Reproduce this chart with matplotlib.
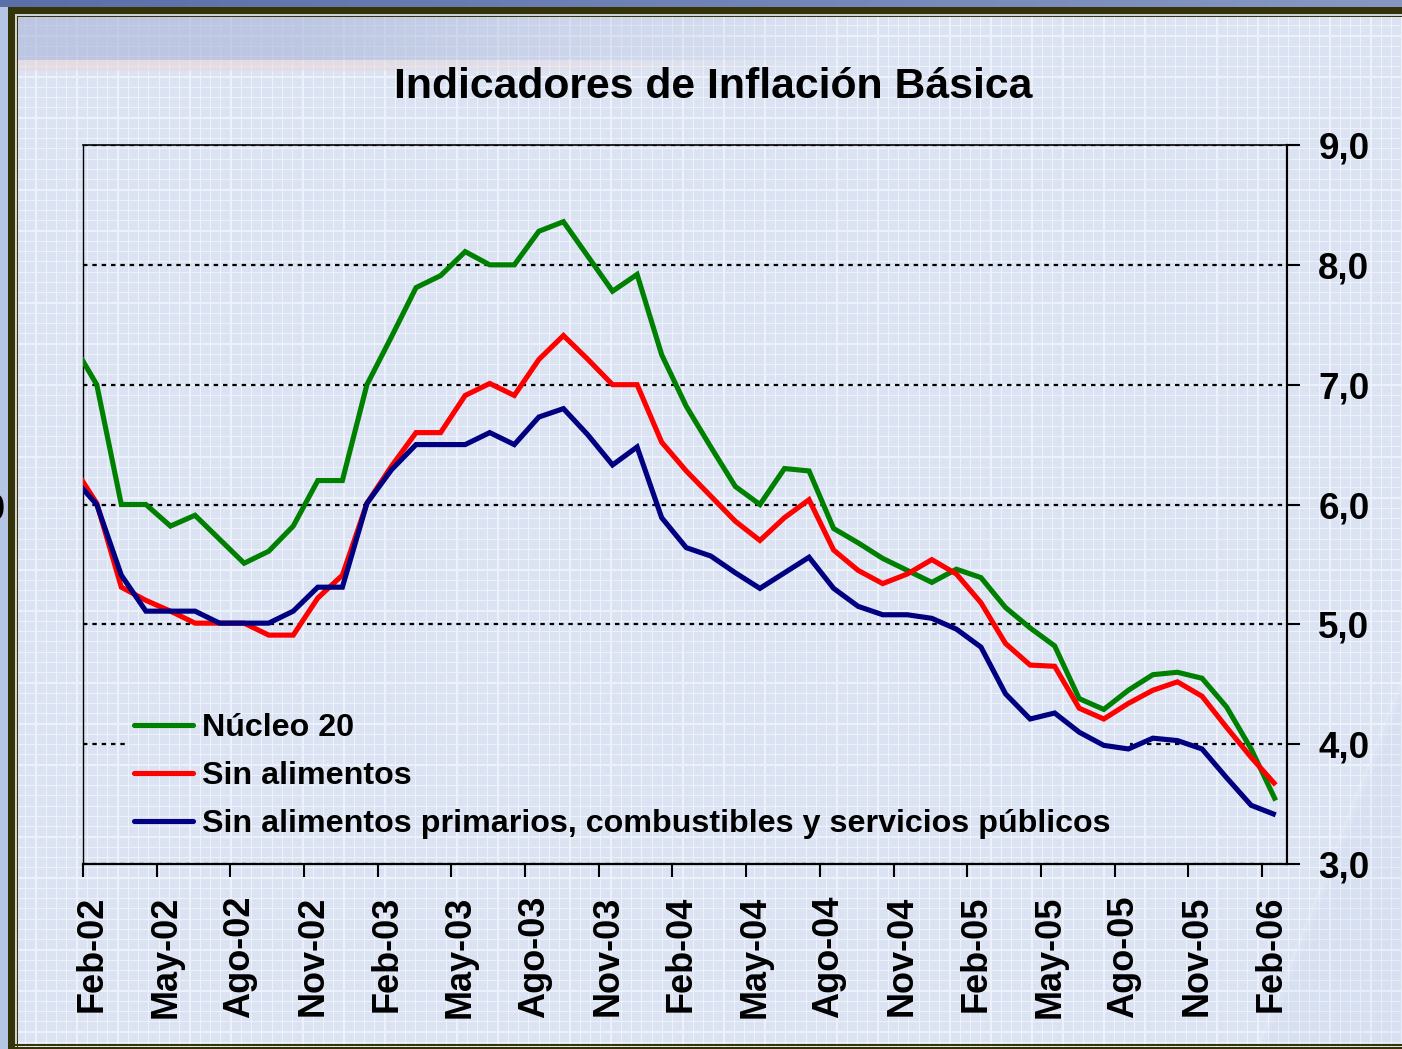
import numpy as np
import matplotlib
matplotlib.use("Agg")
import matplotlib.pyplot as plt
import matplotlib.transforms as mtransforms
from matplotlib.path import Path

# ---------------- data ----------------
# months from Jan-02 (clipped at the left edge) to Feb-06
tick_labels = ["Feb-02", "May-02", "Ago-02", "Nov-02", "Feb-03", "May-03", "Ago-03",
               "Nov-03", "Feb-04", "May-04", "Ago-04", "Nov-04", "Feb-05", "May-05",
               "Ago-05", "Nov-05", "Feb-06"]

nucleo20 = [7.35, 7.00, 6.00, 6.00, 5.82, 5.91, 5.71, 5.51, 5.61, 5.82, 6.20, 6.20,
            7.00, 7.40, 7.81, 7.91, 8.11, 8.00, 8.00, 8.28, 8.36, 8.07, 7.78, 7.92,
            7.25, 6.82, 6.48, 6.15, 6.00, 6.30, 6.28, 5.80, 5.68, 5.55, 5.45, 5.35,
            5.46, 5.39, 5.14, 4.97, 4.82, 4.38, 4.29, 4.45, 4.58, 4.60, 4.55, 4.31,
            3.96, 3.53]

sin_alimentos = [6.33, 6.01, 5.31, 5.20, 5.11, 5.01, 5.01, 5.01, 4.91, 4.91, 5.22, 5.41,
                 6.01, 6.32, 6.60, 6.60, 6.91, 7.01, 6.91, 7.21, 7.41, 7.21, 7.00, 7.00,
                 6.52, 6.28, 6.07, 5.86, 5.70, 5.89, 6.04, 5.62, 5.45, 5.34, 5.42, 5.54,
                 5.42, 5.18, 4.84, 4.66, 4.65, 4.30, 4.21, 4.34, 4.45, 4.52, 4.40, 4.14,
                 3.89, 3.66]

sin_alim_prim = [6.23, 6.00, 5.41, 5.11, 5.11, 5.11, 5.01, 5.01, 5.01, 5.11, 5.31, 5.31,
                 6.01, 6.29, 6.50, 6.50, 6.50, 6.60, 6.50, 6.73, 6.80, 6.58, 6.33, 6.48,
                 5.89, 5.64, 5.57, 5.43, 5.30, 5.43, 5.56, 5.30, 5.15, 5.08, 5.08, 5.05,
                 4.96, 4.81, 4.42, 4.21, 4.26, 4.10, 3.99, 3.96, 4.05, 4.03, 3.96, 3.72,
                 3.49, 3.41]

series_names = ["Núcleo 20", "Sin alimentos",
                "Sin alimentos primarios, combustibles y servicios públicos"]
series_colors = ["#008000", "#FF0000", "#000080"]

y_ticks = [3, 4, 5, 6, 7, 8, 9]
y_tick_labels = ["3,0", "4,0", "5,0", "6,0", "7,0", "8,0", "9,0"]

# ---------------- figure & background texture ----------------
W, H = 1402, 1049
DPI = 100
fig = plt.figure(figsize=(W / DPI, H / DPI), dpi=DPI)

yy, xx = np.mgrid[0:H, 0:W].astype(float)
img = np.empty((H, W, 3))
img[:] = np.array([219, 227, 243]) / 255.0

def blend(mask_w, color):
    c = np.array(color) / 255.0
    img[:] = img * (1 - mask_w[..., None]) + c * mask_w[..., None]

# white graph-paper grid
sp = 10.27
gv = (((xx - 4) % sp) < 1.2).astype(float)
gh = (((yy - 4) % sp) < 1.2).astype(float)
blend(np.clip(gv + gh, 0, 1) * 0.5, (255, 255, 255))
chk = (((xx + yy) % 3) < 1).astype(float) * 0.05
blend(chk, (255, 255, 255))

# darker top band fading to the right
wfade = np.clip((850 - xx) / 550, 0, 1)
band = ((yy >= 17) & (yy < 60)).astype(float) * wfade * 0.6
blend(band, (168, 180, 215))
peach = ((yy >= 60) & (yy < 71)).astype(float) * wfade * 0.55
blend(peach, (232, 214, 214))

# subtle diagonal swoosh lower right
line_x = 1402 - (yy - 683) * (102 / 260.0)
side = xx - line_x
blend(((side > 0) & (yy > 600)).astype(float) * 0.10, (180, 198, 230))
blend(((np.abs(side) < 4) & (yy > 600)).astype(float) * 0.15, (245, 248, 255))

# outer frame
blend(((yy < 7)).astype(float), (90, 110, 168))
top_grad = np.clip(xx / W, 0, 1)
blend(((yy < 7)).astype(float) * top_grad * 0.6, (165, 180, 215))
blend(((xx < 8) & (yy >= 7)).astype(float), (180, 197, 230))
olive = (52, 52, 8)
blend((((xx >= 8) & (xx < 15) & (yy >= 7)) | ((yy >= 7) & (yy < 14) & (xx >= 8))).astype(float), olive)
blend((((xx >= 15) & (xx < 17) & (yy >= 14)) | ((yy >= 14) & (yy < 16) & (xx >= 15))).astype(float), (205, 208, 212))
blend((((xx == 17) & (yy >= 16)) | ((yy == 16) & (xx >= 17))).astype(float), olive)
blend(((yy >= 1044) & (yy < 1046) & (xx >= 15)).astype(float), olive)
blend(((yy >= 1047) & (xx >= 8)).astype(float), olive)

fig.figimage((img * 255).astype(np.uint8), xo=0, yo=0, origin="upper", zorder=-10)

FONT = "Liberation Sans"

# ---------------- axes ----------------
ax_l, ax_r, ax_t, ax_b = 83, 1287, 145, 864
ax = fig.add_axes([ax_l / W, 1 - ax_b / H, (ax_r - ax_l) / W, (ax_b - ax_t) / H])
ax.set_zorder(1)
ax.patch.set_visible(False)

n = len(nucleo20)
x = np.arange(n) - 1 + 0.56   # first value is Jan-02, clipped by the axis

for vals, name, col in zip([nucleo20, sin_alimentos, sin_alim_prim], series_names, series_colors):
    ax.plot(x, vals, color=col, lw=3.7, label=name, zorder=3,
            solid_joinstyle="miter", solid_capstyle="butt")

ax.set_xlim(0, 49.02)
ax.set_ylim(3, 9)

# y axis on the right
ax.yaxis.tick_right()
ax.set_yticks(y_ticks)
ax.set_yticklabels(y_tick_labels, fontsize=26.5, fontweight="bold", family=FONT)
ax.tick_params(axis="y", which="major", direction="out", length=9.5, width=1.5,
               pad=13, right=True, left=False)

ax.set_xticks(np.arange(0, 49, 3))
ax.set_xticklabels(tick_labels, rotation=90, fontsize=26, fontweight="bold", family=FONT,
                   va="top", ha="center")
ax.tick_params(axis="x", which="major", direction="out", length=9, width=1.5, pad=14)
offset = mtransforms.ScaledTranslation(9 / DPI, 0, fig.dpi_scale_trans)
for lab in ax.get_xticklabels():
    lab.set_transform(lab.get_transform() + offset)

ax.grid(axis="y", color="black", linestyle=(0, (2, 2.2)), linewidth=1.6, zorder=1)
ax.grid(axis="x", visible=False)
ax.set_axisbelow(True)

for s, lw in [("left", 1.0), ("top", 1.2), ("bottom", 1.6), ("right", 1.6)]:
    ax.spines[s].set_linewidth(lw)
    ax.spines[s].set_color("black")

# legend (transparent box; gridlines are hidden behind it)
leg = ax.legend(loc="upper left", bbox_to_anchor=(0.0345, 0.223), borderaxespad=0,
                prop={"family": FONT, "weight": "bold", "size": 23.2},
                frameon=False, handlelength=1.83, handletextpad=0.27,
                labelspacing=0.56, borderpad=0.3)
leg.set_zorder(2.5)
for h in leg.get_lines():
    h.set_linewidth(3.7)
    h.set_solid_capstyle("round")

# title
fig.text(713.5 / W, 1 - 98 / H, "Indicadores de Inflación Básica", ha="center",
         va="baseline", fontsize=30.8, fontweight="bold", family=FONT)

# clipped label remnant at the left edge (as in the source image)
fig.text(-15 / W, 1 - 510 / H, "0", ha="left", va="center", fontsize=26,
         fontweight="bold", family=FONT)

# hide gridlines behind the legend box
fig.canvas.draw()
lb = leg.get_window_extent()
abb = ax.get_window_extent()
pad = 0.3 * 23.2 * DPI / 72
lx0, lx1 = lb.x0 + 0, lb.x1 + pad
ly0, ly1 = lb.y0, lb.y1
verts = [(abb.x0 - 5, abb.y0 - 5), (abb.x1 + 5, abb.y0 - 5), (abb.x1 + 5, abb.y1 + 5),
         (abb.x0 - 5, abb.y1 + 5), (abb.x0 - 5, abb.y0 - 5),
         (lx0, ly0), (lx0, ly1), (lx1, ly1), (lx1, ly0), (lx0, ly0)]
codes = [Path.MOVETO, Path.LINETO, Path.LINETO, Path.LINETO, Path.CLOSEPOLY,
         Path.MOVETO, Path.LINETO, Path.LINETO, Path.LINETO, Path.CLOSEPOLY]
clip = Path(verts, codes)
for gl in ax.yaxis.get_gridlines():
    gl.set_clip_path(clip, mtransforms.IdentityTransform())

fig.savefig("out.png", dpi=DPI)
